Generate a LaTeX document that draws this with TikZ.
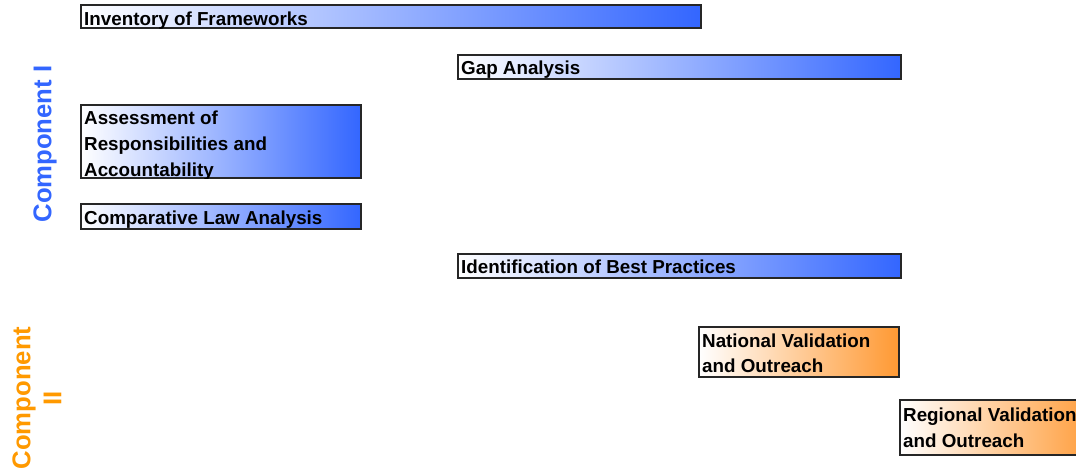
\documentclass[tikz,border=0pt]{standalone}
\usepackage{fontspec}
\setmainfont{Liberation Sans}
\usepackage{xcolor}
\usepackage{tikz}
\usetikzlibrary{positioning}

\definecolor{compblue}{RGB}{51,102,255}
\definecolor{comporange}{RGB}{255,153,51}
\definecolor{labelorange}{RGB}{255,153,0}

\begin{document}
\begin{tikzpicture}[
    x = 1pt,
    y = -1pt,
    font = \bfseries\fontsize{18.8}{25.8}\selectfont,
    taskbar/.style = {
      rectangle,
      draw=black!85,
      line width=1.3pt,
      left color=white,
      inner sep=0pt,
      outer sep=0pt,
      anchor=north west
    },
    bluebar/.style = {
      taskbar,
      middle color=compblue!22,
      right color=compblue
    },
    orangebar/.style = {
      taskbar,
      middle color=comporange!22,
      right color=comporange
    },
    tasktext/.style = {
      align=left,
      inner sep=0pt
    },
    complabel/.style = {
      rotate=90,
      align=center,
      inner sep=0pt,
      font=\bfseries\fontsize{25.7}{31}\selectfont
    }
  ]
    \useasboundingbox (0,0) rectangle (1076,467);

    % component I
    \node[bluebar, minimum width=620pt, minimum height=23pt] (inventory) at (81,5) {};
    \node[bluebar, minimum width=443pt, minimum height=24pt] (gap) at (458,55) {};
    \node[bluebar, minimum width=280pt, minimum height=73pt] (assess) at (81,105) {};
    \node[bluebar, minimum width=280pt, minimum height=25pt] (comparative) at (81,204) {};
    \node[bluebar, minimum width=443pt, minimum height=24pt] (bestpract) at (458,254) {};

    % component II
    \node[orangebar, minimum width=200pt, minimum height=50pt] (national) at (699,327) {};
    \node[orangebar, minimum width=200pt, minimum height=55pt] (regional) at (900,400) {};

    \node[tasktext, below right=6.3pt and 3pt of inventory.north west] (inventorytxt) {Inventory of Frameworks};
    \node[tasktext, below right=5.5pt and 3pt of gap.north west] (gaptxt) {Gap Analysis};
    \begin{scope}
      \clip (assess.south west) rectangle (assess.north east);
      \node[tasktext, below right=6pt and 3pt of assess.north west] (assesstxt) {Assessment of\\Responsibilities and\\Accountability};
    \end{scope}
    \node[tasktext, below right=6.8pt and 3pt of comparative.north west] (comparativetxt) {Comparative Law Analysis};
    \node[tasktext, below right=5.6pt and 3pt of bestpract.north west] (bestpracttxt) {Identification of Best Practices};
    \node[tasktext, below right=6.3pt and 3pt of national.north west] (nationaltxt) {National Validation\\and Outreach};
    \node[tasktext, below right=7.6pt and 3pt of regional.north west] (regionaltxt) {Regional Validation\\and Outreach};

    \node[complabel, text=compblue] (compone) at (45,144) {Component I};
    \node[complabel, text=labelorange] (comptwo) at (37,398) {Component\\II};

  \end{tikzpicture}
\end{document}
